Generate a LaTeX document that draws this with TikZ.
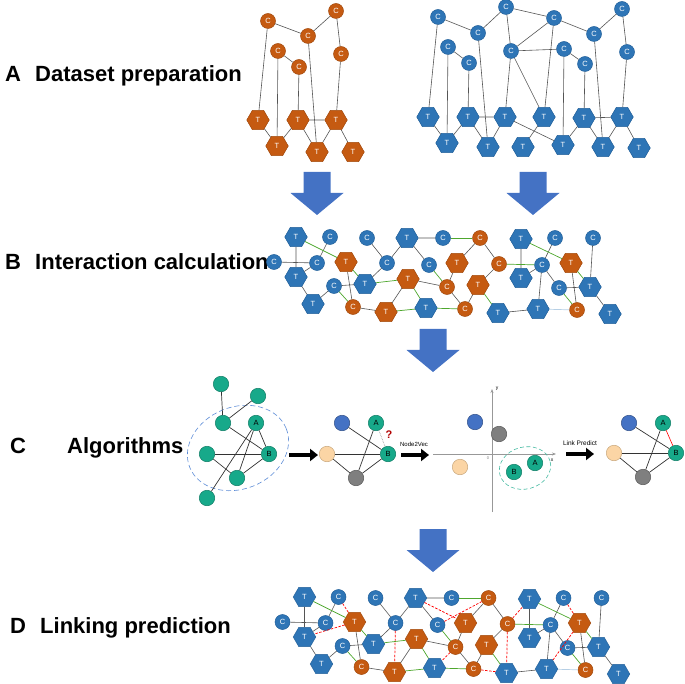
\documentclass[tikz,border=0pt]{standalone}
\usepackage{fontspec}
\setmainfont{Liberation Sans}
\usetikzlibrary{shapes.geometric, arrows.meta}

\definecolor{rust}{HTML}{C55A11}
\definecolor{rustedge}{HTML}{A24A0E}
\definecolor{steel}{HTML}{2E75B6}
\definecolor{steeledge}{HTML}{22609A}
\definecolor{linkgrey}{HTML}{555555}
\definecolor{linkgreen}{HTML}{4EA72E}
\definecolor{arrowblue}{HTML}{4472C4}
\definecolor{algoteal}{HTML}{17A98A}
\definecolor{tealedge}{HTML}{0F7D65}
\definecolor{peach}{HTML}{FBD5A5}
\definecolor{peachedge}{HTML}{C9A77B}
\definecolor{dotgrey}{HTML}{7F7F7F}
\definecolor{ringblue}{HTML}{5B8BD6}

% big block arrow pointing down, top centre at (#1,#2)
\newcommand{\bigdown}[2]{%
  \fill[arrowblue, shift={(#1,#2)}] (-13.5,0) -- (13.5,0) -- (13.5,21) -- (26.5,21)
    -- (0,43) -- (-26.5,21) -- (-13.5,21) -- cycle;}

% the merged interaction network (used for B and D)
\newcommand{\interplay}[1]{%
  \node[tblue] (#1t1) at (296,237) {T};
  \node[cblue] (#1c1) at (330,237) {C};
  \node[cblue] (#1c2) at (274,262) {C};
  \node[cblue] (#1c3) at (317,263) {C};
  \node[torange] (#1t2) at (346,262) {T};
  \node[tblue] (#1t3) at (296,277) {T};
  \node[cblue] (#1c4) at (334,286) {C};
  \node[tblue] (#1t4) at (365,284) {T};
  \node[cblue] (#1c5) at (367,238) {C};
  \node[cblue] (#1c6) at (387,263) {C};
  \node[tblue] (#1t5) at (407,238) {T};
  \node[cblue] (#1c7) at (443,238) {C};
  \node[cblue] (#1c8) at (429,265) {C};
  \node[torange] (#1t6) at (408,279) {T};
  \node[corange] (#1c9) at (353,307) {C};
  \node[tblue] (#1t7) at (313,304) {T};
  \node[torange] (#1t8) at (386,312) {T};
  \node[tblue] (#1t9) at (426,308) {T};
  \node[corange] (#1c10) at (447,287) {C};
  \node[corange] (#1c11) at (480,238) {C};
  \node[torange] (#1t10) at (457,263) {T};
  \node[corange] (#1c12) at (499,264) {C};
  \node[torange] (#1t11) at (478,285) {T};
  \node[corange] (#1c13) at (465,309) {C};
  \node[tblue] (#1t12) at (498,313) {T};
  \node[tblue] (#1t13) at (538,309) {T};
  \node[tblue] (#1t14) at (521,239) {T};
  \node[cblue] (#1c14) at (555,238) {C};
  \node[cblue] (#1c15) at (593,238) {C};
  \node[tblue] (#1t15) at (521,278) {T};
  \node[cblue] (#1c16) at (542,265) {C};
  \node[torange] (#1t16) at (571,263) {T};
  \node[cblue] (#1c17) at (559,288) {C};
  \node[tblue] (#1t17) at (590,287) {T};
  \node[corange] (#1c18) at (577,310) {C};
  \node[tblue] (#1t18) at (610,314) {T};
  \path[link] (#1t1) edge (#1t3)
              (#1c2) edge (#1c3)
              (#1c1) edge (#1c3)
              (#1c3) edge (#1t3)
              (#1t3) edge (#1t7)
              (#1t2) edge (#1c9)
              (#1c4) edge (#1t4)
                     edge (#1t7)
              (#1c9) edge (#1t8)
              (#1t4) edge (#1c6)
              (#1c5) edge (#1c6)
              (#1c6) edge (#1t5)
              (#1t5) edge (#1c7)
                     edge (#1c8)
              (#1t6) edge (#1t8)
                     edge (#1c10)
              (#1c10) edge (#1t10)
                      edge (#1c13)
              (#1c11) edge (#1t10)
                      edge (#1c12)
              (#1c12) edge (#1t11)
              (#1t11) edge (#1c13)
              (#1t12) edge (#1t13)
              (#1t14) edge (#1t15)
              (#1c14) edge (#1c16)
              (#1c16) edge (#1t15)
                      edge (#1t13)
                      edge (#1c17)
              (#1c17) edge (#1t17)
              (#1t16) edge (#1c18)
              (#1c15) edge (#1t17)
              (#1t17) edge (#1t18);
  \path[faint] (#1t13) edge (#1c18);
  \path[bond] (#1t1) edge (#1t2)
              (#1t2) edge (#1t4)
              (#1c4) edge (#1c9)
              (#1c7) edge (#1c11)
              (#1c8) edge (#1c10)
              (#1t4) edge (#1t6)
              (#1t6) edge (#1t9)
              (#1t8) edge (#1t9)
              (#1t9) edge (#1c13)
              (#1c12) edge (#1c16)
              (#1t11) edge (#1t12)
              (#1t14) edge (#1t16)
              (#1c17) edge (#1c18)
              (#1t16) edge (#1t17);}

\begin{document}
\begin{tikzpicture}[x=1pt, y=-1pt]
\tikzstyle{cnode}=[circle, draw, minimum size=15pt, inner sep=0pt, line width=0.5pt, text=white, font=\fontsize{7.5}{7.5}\selectfont]
\tikzstyle{tnode}=[regular polygon, regular polygon sides=6, draw, minimum size=22.5pt, inner sep=0pt, line width=0.5pt, text=white, font=\fontsize{7.5}{7.5}\selectfont]
\tikzstyle{cblue}=[cnode, fill=steel, draw=steeledge]
\tikzstyle{corange}=[cnode, fill=rust, draw=rustedge]
\tikzstyle{tblue}=[tnode, fill=steel, draw=steeledge]
\tikzstyle{torange}=[tnode, fill=rust, draw=rustedge]
\tikzstyle{link}=[draw=linkgrey, line width=0.6pt]
\tikzstyle{faint}=[draw=steel!35, line width=0.7pt]
\tikzstyle{bond}=[draw=linkgreen, line width=0.7pt]
\tikzstyle{guess}=[draw=red, line width=0.7pt, dashed, dash pattern=on 2.5pt off 1.5pt]
\tikzstyle{sect}=[inner sep=0pt, anchor=base west, font=\fontsize{22}{22}\selectfont\bfseries]
\tikzstyle{algo}=[circle, draw, minimum size=15.5pt, inner sep=0pt, line width=0.5pt, font=\fontsize{7.5}{7.5}\selectfont]
\tikzstyle{tealn}=[algo, fill=algoteal, draw=tealedge]
\tikzstyle{bluen}=[algo, fill=arrowblue, draw=arrowblue!70!black]
\tikzstyle{greyn}=[algo, fill=dotgrey, draw=dotgrey!70!black]
\tikzstyle{peachn}=[algo, fill=peach, draw=peachedge]
\tikzstyle{algolink}=[draw=black!80, line width=0.7pt]
\tikzstyle{thick arrow}=[line width=4pt, -{Triangle[length=8pt, width=12pt]}]
\tikzstyle{tiny}=[inner sep=0pt, font=\fontsize{6}{6}\selectfont]

\useasboundingbox (0,0) rectangle (685,684);

% section titles
\node[sect] (labA) at (5,82) {A};
\node[sect] (titA) at (35,82) {Dataset preparation};
\node[sect] (labB) at (5,270) {B};
\node[sect] (titB) at (35,270) {Interaction calculation};
\node[sect] (labC) at (10,453) {C};
\node[sect] (titC) at (67,453) {Algorithms};
\node[sect] (labD) at (10,633) {D};
\node[sect] (titD) at (40,633) {Linking prediction};

% A: orange network
\node[corange] (oc1) at (268,21) {C};
\node[corange] (oc2) at (336,11) {C};
\node[corange] (oc3) at (308,36) {C};
\node[corange] (oc4) at (278,51) {C};
\node[corange] (oc5) at (299,67) {C};
\node[corange] (oc6) at (341,54) {C};
\node[torange] (ot1) at (258,120) {T};
\node[torange] (ot2) at (277,146) {T};
\node[torange] (ot3) at (298,120) {T};
\node[torange] (ot4) at (317,152) {T};
\node[torange] (ot5) at (336,120) {T};
\node[torange] (ot6) at (353,152) {T};
\path[link] (oc1) edge (oc3)
                  edge (ot1)
            (oc3) edge (oc2)
                  edge (ot4)
            (oc2) edge (oc6)
            (oc4) edge (oc5)
                  edge (ot2)
            (oc5) edge (ot3)
            (oc6) edge (ot5)
            (ot1) edge (ot2)
            (ot2) edge (ot3)
            (ot3) edge (ot5)
                  edge (ot4)
            (ot5) edge (ot4)
                  edge (ot6);

% A: blue network
\node[cblue] (bc1) at (438,17) {C};
\node[cblue] (bc2) at (478,33) {C};
\node[cblue] (bc3) at (506,7) {C};
\node[cblue] (bc4) at (554,18) {C};
\node[cblue] (bc5) at (594,34) {C};
\node[cblue] (bc6) at (622,9) {C};
\node[cblue] (bc7) at (448,47) {C};
\node[cblue] (bc8) at (469,63) {C};
\node[cblue] (bc9) at (511,51) {C};
\node[cblue] (bc10) at (564,49) {C};
\node[cblue] (bc11) at (585,64) {C};
\node[cblue] (bc12) at (627,52) {C};
\node[tblue] (bt1) at (428,117) {T};
\node[tblue] (bt2) at (447,143) {T};
\node[tblue] (bt3) at (468,117) {T};
\node[tblue] (bt4) at (488,147) {T};
\node[tblue] (bt5) at (505,117) {T};
\node[tblue] (bt6) at (523,147) {T};
\node[tblue] (bt7) at (544,117) {T};
\node[tblue] (bt8) at (563,145) {T};
\node[tblue] (bt9) at (584,118) {T};
\node[tblue] (bt10) at (603,147) {T};
\node[tblue] (bt11) at (622,117) {T};
\node[tblue] (bt12) at (639,148) {T};
\path[link] (bc1) edge (bc2)
                  edge (bt1)
            (bc2) edge (bc3)
                  edge (bt4)
            (bc3) edge (bc4)
                  edge (bc9)
            (bc4) edge (bc5)
                  edge (bc9)
                  edge (bt7)
            (bc5) edge (bc6)
                  edge (bt10)
            (bc9) edge (bc10)
                  edge (bt5)
                  edge (bt7)
            (bc7) edge (bc8)
                  edge (bt2)
            (bc8) edge (bt3)
            (bc10) edge (bc11)
                   edge (bt8)
            (bc11) edge (bt9)
            (bc6) edge (bc12)
            (bc12) edge (bt11)
            (bt1) edge (bt2)
            (bt2) edge (bt3)
            (bt3) edge (bt5)
                  edge (bt4)
            (bt5) edge (bt4)
                  edge (bt8)
            (bt7) edge (bt6)
            (bt8) edge (bt9)
            (bt9) edge (bt11)
                  edge (bt10)
            (bt11) edge (bt10)
                   edge (bt12);

% block arrows
\bigdown{317}{172}
\bigdown{533}{172}
\bigdown{433}{329}
\bigdown{433}{529}

% B: interaction network
\interplay{b}

% C: first graph
\draw[ringblue, dashed, dash pattern=on 5pt off 3pt, line width=0.6pt, rotate around={22:(238,448)}] (238,448) ellipse [x radius=52pt, y radius=41pt];
\node[tealn] (g1) at (221,384) {};
\node[tealn] (g2) at (258,396) {};
\node[tealn] (g3) at (223,423) {};
\node[tealn] (gA) at (256,423) {A};
\node[tealn] (g5) at (207,454) {};
\node[tealn] (gB) at (269,454) {B};
\node[tealn] (g7) at (237,478) {};
\node[tealn] (g8) at (207,498) {};
\path[algolink] (g1) edge (g3)
                (g2) edge (g3)
                (g3) edge (gB)
                (gA) edge (gB)
                     edge (g7)
                     edge (g8)
                (g5) edge (gB)
                     edge (g7)
                (gB) edge (g7);
\coordinate (k1) at (289,455);
\coordinate (k2) at (318,455);
\draw[thick arrow] (k1) -- (k2);

% C: second graph
\node[bluen] (hblue) at (342,423) {};
\node[tealn] (hA) at (376,423) {A};
\node[peachn] (hpeach) at (327,454) {};
\node[tealn] (hB) at (388,454) {B};
\node[greyn] (hgrey) at (356,478) {};
\path[algolink] (hblue) edge (hB)
                (hA) edge (hgrey)
                (hpeach) edge (hB)
                         edge (hgrey)
                (hgrey) edge (hB);
\path[draw=dotgrey, densely dotted, line width=0.6pt] (hA) edge (hB);
\node[text=red!70!black, font=\fontsize{11}{11}\selectfont\bfseries, inner sep=0pt] (qmark) at (389,435) {?};
\coordinate (k3) at (401,455);
\coordinate (k4) at (429,455);
\draw[thick arrow] (k3) -- (k4);
\node[tiny, anchor=south] (n2v) at (414,447) {Node2Vec};

% C: embedding space
\coordinate (xl) at (433,454);
\coordinate (xr) at (556,454);
\coordinate (yb) at (492,512);
\coordinate (yt) at (492,389);
\draw[dotgrey!80, line width=0.6pt, -{Stealth[length=4pt]}] (xl) -- (xr);
\draw[dotgrey!80, line width=0.6pt, -{Stealth[length=4pt]}] (yb) -- (yt);
\node[tiny, font=\fontsize{5}{5}\selectfont] (xlab) at (552,460) {x};
\node[tiny, font=\fontsize{5}{5}\selectfont] (ylab) at (497,389) {y};
\node[tiny, font=\fontsize{4}{4}\selectfont, text=dotgrey] (zero) at (488,458) {0};
\node[bluen] (eblue) at (475,422) {};
\node[greyn] (egrey) at (499,434) {};
\node[peachn] (epeach) at (460,467) {};
\node[tealn] (eB) at (514,472) {B};
\node[tealn] (eA) at (535,463) {A};
\draw[algoteal!80, dashed, dash pattern=on 4pt off 2.5pt, line width=0.6pt, rotate around={15:(525,468)}] (525,468) ellipse [x radius=26pt, y radius=21pt];

% C: predicted graph
\coordinate (k5) at (566,454);
\coordinate (k6) at (594,454);
\draw[thick arrow] (k5) -- (k6);
\node[tiny, anchor=south, font=\fontsize{6.5}{6.5}\selectfont] (lp) at (580,446) {Link Predict};
\node[bluen] (fblue) at (629,423) {};
\node[tealn] (fA) at (663,423) {A};
\node[peachn] (fpeach) at (614,453) {};
\node[tealn] (fB) at (676,453) {B};
\node[greyn] (fgrey) at (643,477) {};
\path[algolink] (fblue) edge (fB)
                (fA) edge (fgrey)
                (fpeach) edge (fB)
                         edge (fgrey)
                (fgrey) edge (fB);
\path[draw=red, line width=0.6pt] (fA) edge (fB);

% D: same network with predicted links
\begin{scope}[shift={(8.5,360)}]
\interplay{d}
\end{scope}
\path[guess] (dc1) edge (dt2)
             (dt2) edge (dt3)
             (dc6) edge (dt8)
             (dt5) edge (dt10)
             (dc8) edge (dc11)
             (dc10) edge (dt9)
             (dc12) edge (dt14)
                    edge (dt12)
             (dc13) edge (dt12)
             (dc14) edge (dt16)
             (dt16) edge (dt13);

\end{tikzpicture}
\end{document}
